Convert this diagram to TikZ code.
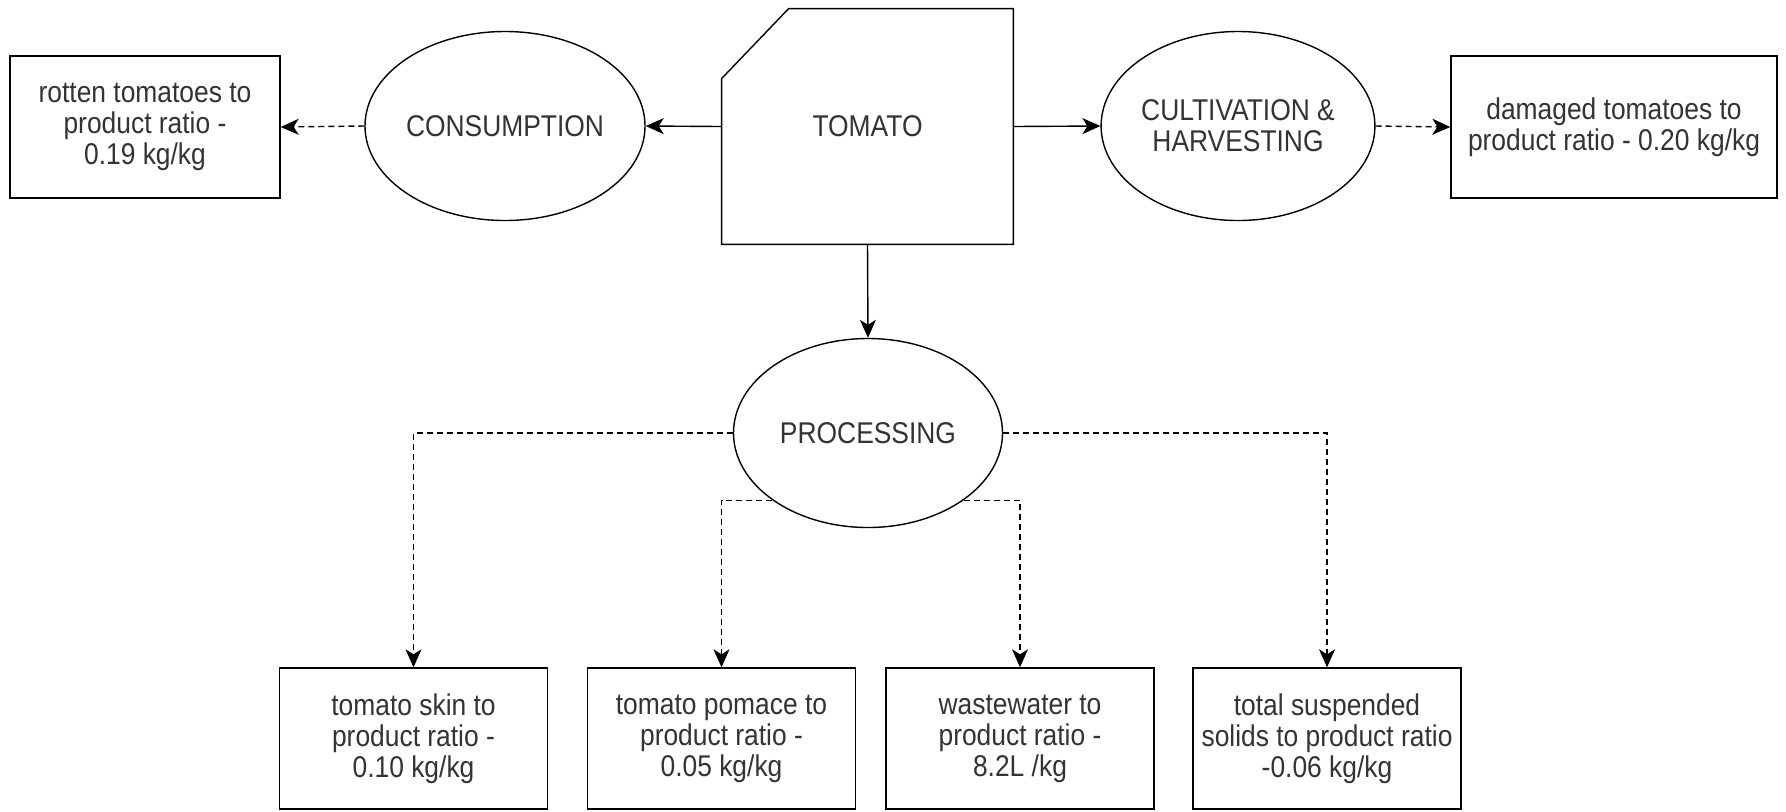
\documentclass[tikz,border=0pt]{standalone}
\usepackage{fontspec}
\setmainfont{Liberation Sans}[FakeStretch=0.88]
\usetikzlibrary{shapes.geometric,arrows.meta}
\definecolor{txtgray}{HTML}{333333}
\tikzset{
  base/.style={font=\fontsize{15}{15.5}\selectfont, text=txtgray, align=center, inner sep=0pt},
  wastebox/.style={base, draw, line width=0.7pt, minimum width=134pt, minimum height=70.5pt},
  stage/.style={base, draw, ellipse, line width=0.7pt, minimum width=134.5pt, minimum height=94.5pt},
  flow/.style={line width=0.7pt, -{Stealth[length=9pt,width=8pt,inset=2.5pt]}},
  lossflow/.style={flow, dash pattern=on 3pt off 2pt}
}
\begin{document}
\begin{tikzpicture}[x=0.5pt,y=-0.5pt]
\useasboundingbox (0,0) rectangle (1786,811);
\node[base, minimum width=145.5pt, minimum height=117.5pt] (tomato) at (867.5,126.5) {TOMATO};
\draw[line width=0.7pt] (tomato.south west) -- (tomato.south east) -- (tomato.north east)
  -- ([xshift=33.5pt]tomato.north west) -- ([yshift=-35pt]tomato.north west) -- cycle;
\node[stage] (consumption) at (505,126) {CONSUMPTION};
\node[stage] (cultivation) at (1238,126) {CULTIVATION \&\\HARVESTING};
\node[stage] (processing) at (868,433) {PROCESSING};
\node[wastebox, minimum width=135pt, minimum height=71pt] (rotten) at (145,127) {rotten tomatoes to\\product ratio -\\0.19 kg/kg};
\node[wastebox, minimum width=163pt, minimum height=71pt] (damaged) at (1614,127) {damaged tomatoes to\\product ratio - 0.20 kg/kg};
\node[wastebox] (skin) at (413.5,738.5) {tomato skin to\\product ratio -\\0.10 kg/kg};
\node[wastebox] (pomace) at (721.5,738.5) {tomato pomace to\\product ratio -\\0.05 kg/kg};
\node[wastebox] (wastewater) at (1020,738.5) {wastewater to\\product ratio -\\8.2L /kg};
\node[wastebox] (solids) at (1327,738.5) {total suspended\\solids to product ratio\\-0.06 kg/kg};
\draw[flow] (tomato.west) -- (consumption.east);
\draw[lossflow] (consumption.west) -- (rotten.east);
\draw[flow] (tomato.east) -- (cultivation.west);
\draw[lossflow] (cultivation.east) -- (damaged.west);
\draw[flow] (tomato.south) -- (processing.north);
\draw[lossflow] (processing.west) -| (skin.north);
\draw[lossflow] (processing.east) -| (solids.north);
\draw[lossflow] (processing.south west) -| (pomace.north);
\draw[lossflow] (processing.south east) -| (wastewater.north);
\end{tikzpicture}
\end{document}
